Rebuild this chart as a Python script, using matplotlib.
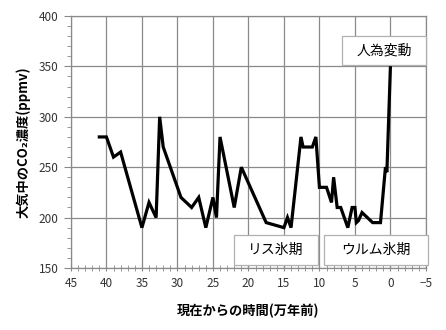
import matplotlib
matplotlib.use("Agg")
import matplotlib.pyplot as plt
from matplotlib.patches import Rectangle
from matplotlib.ticker import MultipleLocator

plt.rcParams['font.family'] = ['Noto Sans CJK JP', 'DejaVu Sans']

# Time before present (10,000 years) and atmospheric CO2 (ppmv)
years = [41, 40, 39, 38, 35, 34, 33, 32.5, 32, 29.5, 28, 27, 26, 25, 24.5, 24,
         22, 21, 17.5, 15, 14.5, 14, 12.6, 12.3, 11, 10.5, 10, 9, 8.3, 8, 7.5,
         7, 6, 5.4, 5, 4.8, 4.5, 4, 2.5, 1.4, 0.7, 0.5, 0]
co2 = [280, 280, 260, 265, 190, 215, 200, 300, 270, 220, 210, 220, 190, 220, 200, 280,
       210, 250, 195, 190, 200, 190, 280, 270, 270, 280, 230, 230, 215, 240, 210,
       210, 190, 210, 210, 195, 197, 205, 195, 195, 250, 245, 350]

xlabel = "現在からの時間(万年前)"
ylabel = "大気中のCO₂濃度(ppmv)"
period_labels = ["リス氷期", "ウルム氷期", "人為変動"]

fig = plt.figure(figsize=(4.46, 3.30), dpi=100)
ax = fig.add_axes([0.159, 0.188, 0.796, 0.7635])

ax.plot(years, co2, color="black", lw=2.3, solid_joinstyle="miter", zorder=3)

ax.set_xlim(45, -5)
ax.set_ylim(150, 400)
ax.xaxis.set_major_locator(MultipleLocator(5))
ax.xaxis.set_minor_locator(MultipleLocator(1))
ax.yaxis.set_major_locator(MultipleLocator(50))
ax.yaxis.set_minor_locator(MultipleLocator(10))

ax.grid(True, which="major", color="#8a8a8a", lw=0.9, zorder=0)
for s in ax.spines.values():
    s.set_color("#8a8a8a")
    s.set_linewidth(0.9)

ax.tick_params(axis="x", which="both", direction="inout", color="#8a8a8a",
               labelsize=8.5, labelcolor="#333333", pad=4)
ax.tick_params(axis="x", which="major", length=5)
ax.tick_params(axis="x", which="minor", length=4)
ax.tick_params(axis="y", which="both", direction="out", color="#8a8a8a",
               labelsize=8.5, labelcolor="#333333", pad=4)
ax.tick_params(axis="y", which="major", length=5)
ax.tick_params(axis="y", which="minor", length=3)

ax.set_xlabel(xlabel, fontsize=9.5, fontweight="bold", labelpad=10)
ax.set_ylabel(ylabel, fontsize=9.5, fontweight="bold", labelpad=6)

# Period label boxes (axes-fraction coordinates)
boxes = [(0.459, 0.012, 0.237, 0.119),
         (0.713, 0.012, 0.292, 0.119),
         (0.763, 0.806, 0.237, 0.115)]
for (x0, y0, w, h), label in zip(boxes, period_labels):
    ax.add_patch(Rectangle((x0, y0), w, h, transform=ax.transAxes,
                           facecolor="white", edgecolor="#b0b0b0", lw=0.9,
                           zorder=5, clip_on=False))
    ax.text(x0 + w / 2, y0 + h / 2, label, transform=ax.transAxes,
            ha="center", va="center", fontsize=10, zorder=6)

fig.savefig("out.png", dpi=100)
